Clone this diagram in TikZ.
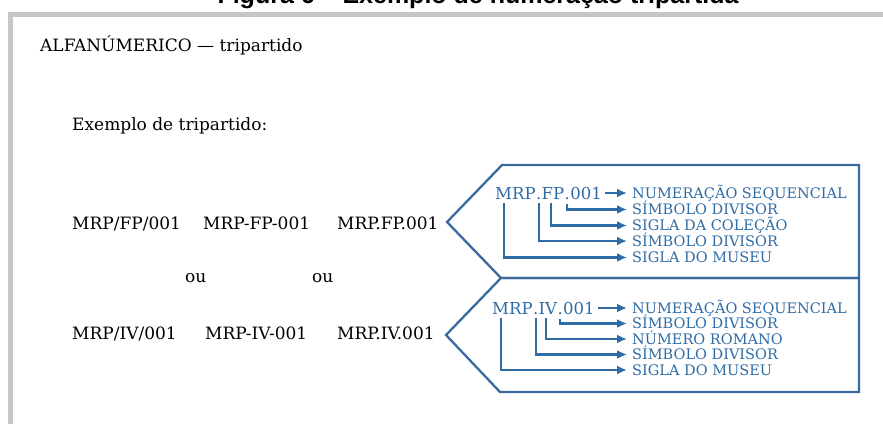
\documentclass[tikz,border=0pt]{standalone}
\usepackage{fontspec}
\setmainfont{DejaVu Serif}
\newfontfamily\titulofont{Liberation Sans}
\usepackage{tikz}
\usetikzlibrary{arrows.meta,positioning,calc}
\definecolor{azul}{HTML}{2F6CA6}
\definecolor{azulborda}{HTML}{3A6A9E}
\definecolor{cinza}{HTML}{C6C6C6}
\tikzset{
  titulo/.style={font=\titulofont\bfseries\fontsize{25}{28}\selectfont,inner sep=0pt,anchor=base},
  texto/.style={font=\fontsize{17}{20}\selectfont,inner sep=0pt,anchor=base west},
  codigo/.style={font=\fontsize{16.5}{19}\selectfont,text=azul,inner sep=0pt,anchor=base west},
  rotulo/.style={font=\fontsize{14.5}{16}\selectfont,text=azul,inner xsep=5pt,inner ysep=0pt,
    text height=10.6pt,text depth=0pt,anchor=west},
  seta/.style={-{Latex[length=10pt,width=9pt]},line width=2.3pt,draw=azul},
  caixa/.style={line width=2.3pt,draw=azulborda,line join=miter}
}
\begin{document}
\begin{tikzpicture}[x=1pt,y=-1pt]
\useasboundingbox (0,0) rectangle (883,424);
\fill[white] (0,0) rectangle (883,424);
% moldura cinza
\fill[cinza] (8,12) rectangle (883,17);
\fill[cinza] (8,12) rectangle (13,424);
\node[titulo] (titulo) at (478,3) {Figura 6 – Exemplo de numeração tripartida};
\node[texto] (alfa) at (40,51) {ALFANÚMERICO — tripartido};
\node[texto] (exemplo) at (72,130) {Exemplo de tripartido:};
% formas de escrita
\node[texto] (fpBarra) at (72,229) {MRP/FP/001};
\node[texto] (fpHifen) at (203,229) {MRP-FP-001};
\node[texto] (fpPonto) at (337,229) {MRP.FP.001};
\node[texto] (ouA) at (185,282) {ou};
\node[texto] (ouB) at (312,282) {ou};
\node[texto] (ivBarra) at (72,339) {MRP/IV/001};
\node[texto] (ivHifen) at (205,339) {MRP-IV-001};
\node[texto] (ivPonto) at (337,339) {MRP.IV.001};
% caixas
\draw[caixa] (502,165) -- (859,165) -- (859,278) -- (501,278) -- (447,222) -- cycle;
\draw[caixa] (501,278) -- (859,278) -- (859,392) -- (500,392) -- (446,335) -- cycle;
% codigo FP
\node[codigo] (fpM) at (495,199) {MRP};
\node[codigo] (fpP1) at (fpM.base east) {.};
\node[codigo] (fpS) at (fpP1.base east) {FP};
\node[codigo] (fpP2) at (fpS.base east) {.};
\node[codigo] (fpN) at (fpP2.base east) {001};
\node[rotulo] (fpR1) at (627,193) {NUMERAÇÃO SEQUENCIAL};
\node[rotulo] (fpR2) at (627,209.5) {SÍMBOLO DIVISOR};
\node[rotulo] (fpR3) at (627,225.5) {SIGLA DA COLEÇÃO};
\node[rotulo] (fpR4) at (627,241) {SÍMBOLO DIVISOR};
\node[rotulo] (fpR5) at (627,257.5) {SIGLA DO MUSEU};
\coordinate (fpCa) at ($(fpM.base west)!0.22!(fpM.base east)+(0,4)$);
\coordinate (fpCb) at ($(fpP1.base)+(0,4)$);
\coordinate (fpCc) at ($(fpS.base west)!0.42!(fpS.base east)+(0,4)$);
\coordinate (fpCd) at ($(fpP2.base)+(0,5)$);
\draw[seta,shorten <=3pt] (fpN.east) -- (fpN.east -| fpR1.west);
\draw[seta] (fpCd) |- (fpR2.west);
\draw[seta] (fpCc) |- (fpR3.west);
\draw[seta] (fpCb) |- (fpR4.west);
\draw[seta] (fpCa) |- (fpR5.west);
% codigo IV
\node[codigo] (ivM) at (492,314) {MRP};
\node[codigo] (ivP1) at (ivM.base east) {.};
\node[codigo] (ivS) at (ivP1.base east) {IV};
\node[codigo] (ivP2) at (ivS.base east) {.};
\node[codigo] (ivN) at (ivP2.base east) {001};
\node[rotulo] (ivR1) at (627,308) {NUMERAÇÃO SEQUENCIAL};
\node[rotulo] (ivR2) at (627,323.5) {SÍMBOLO DIVISOR};
\node[rotulo] (ivR3) at (627,339) {NÚMERO ROMANO};
\node[rotulo] (ivR4) at (627,354.5) {SÍMBOLO DIVISOR};
\node[rotulo] (ivR5) at (627,370) {SIGLA DO MUSEU};
\coordinate (ivCa) at ($(ivM.base west)!0.22!(ivM.base east)+(0,4)$);
\coordinate (ivCb) at ($(ivP1.base)+(0,4)$);
\coordinate (ivCc) at ($(ivS.base west)!0.4!(ivS.base east)+(0,4)$);
\coordinate (ivCd) at ($(ivP2.base)+(0,5)$);
\draw[seta,shorten <=3pt] (ivN.east) -- (ivN.east -| ivR1.west);
\draw[seta] (ivCd) |- (ivR2.west);
\draw[seta] (ivCc) |- (ivR3.west);
\draw[seta] (ivCb) |- (ivR4.west);
\draw[seta] (ivCa) |- (ivR5.west);
\end{tikzpicture}
\end{document}
